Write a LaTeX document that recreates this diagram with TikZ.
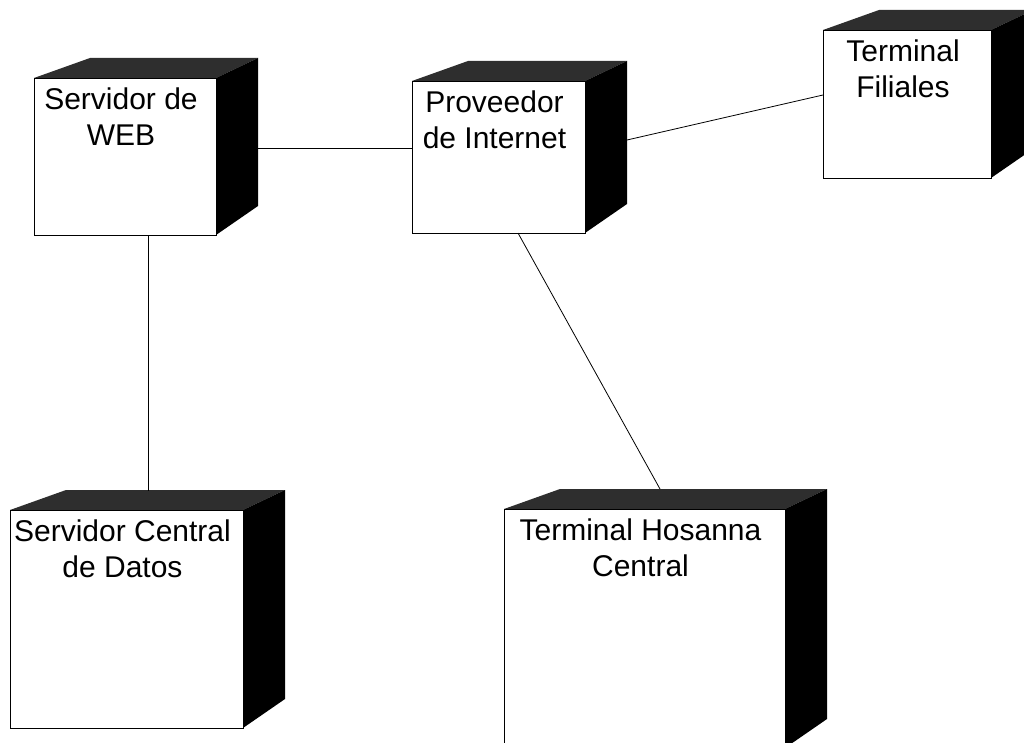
\documentclass[tikz,border=0pt]{standalone}
\usepackage{fontspec}
\setmainfont{Liberation Sans}
\tikzset{
  frontface/.style={draw=black, line width=1.2pt, fill=white, inner sep=0pt, anchor=north west},
  topface/.style={fill=black!82},
  sideface/.style={fill=black},
  label/.style={inner sep=0pt, anchor=north, align=center, font=\fontsize{30}{36}\selectfont},
  link/.style={draw=black, line width=0.8pt}
}
% #1 name, #2 x1, #3 y1, #4 x2, #5 y2, #6 text
\newcommand\dnode[6]{%
  \fill[topface] (#2,#3) -- (#2+56,#3-20) -- (#4+42,#3-20) -- (#4,#3) -- cycle;
  \fill[sideface] (#4,#3) -- (#4+42,#3-20) -- (#4+42,#5-29) -- (#4,#5) -- cycle;
  \node[frontface, minimum width={(#4-#2)*1pt}, minimum height={(#5-#3)*1pt}] (#1) at (#2,#3) {};
  \node[label] (#1-t) at ({(#2+#4)/2-4},#3+10) {#6};
}
\begin{document}
\begin{tikzpicture}[x=1pt,y=-1pt]
\useasboundingbox (0,0) rectangle (1024,743);
\clip (0,0) rectangle (1024,743);
\dnode{web}{34}{78}{216}{235}{Servidor de\\WEB}
\dnode{prov}{412}{81}{585}{233}{Proveedor\\de Internet}
\dnode{fil}{823}{30}{991}{178}{Terminal\\Filiales}
\dnode{srv}{10}{510}{243}{728}{Servidor Central\\de Datos}
\dnode{hos}{504}{509}{785}{748}{Terminal Hosanna\\Central}
\coordinate (webR) at (258,148);
\coordinate (webB) at (148,235);
\coordinate (srvT) at (148,491);
\coordinate (provR) at (627,140);
\coordinate (filL) at (823,95);
\coordinate (provB) at (518,233);
\coordinate (hosT) at (660,489);
\draw[link] (webR) -- (prov.west |- webR);
\draw[link] (webB) -- (srvT);
\draw[link] (provR) -- (filL);
\draw[link] (provB) -- (hosT);
\end{tikzpicture}
\end{document}
